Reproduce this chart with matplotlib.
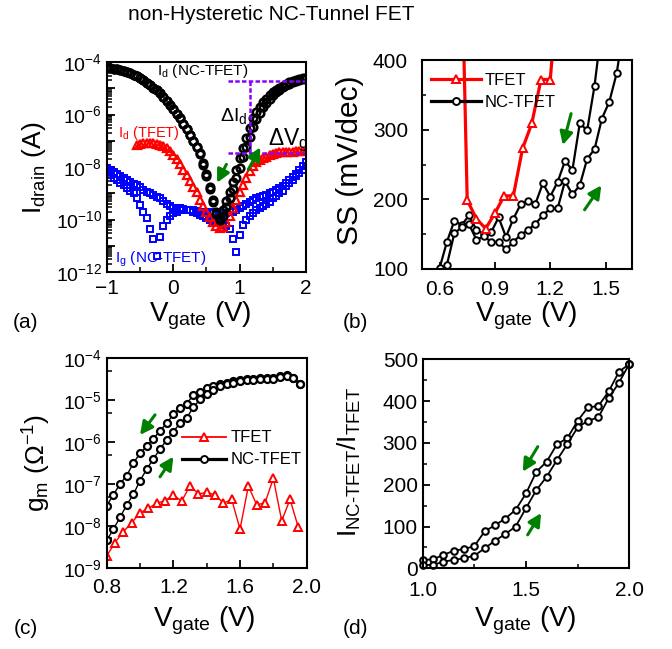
import numpy as np
import matplotlib
matplotlib.use("Agg")
import matplotlib.pyplot as plt
from matplotlib.ticker import FixedLocator, LogLocator, NullFormatter, FuncFormatter, MultipleLocator

plt.rcParams.update({
    "font.family": ["Liberation Sans", "DejaVu Sans"],
    "mathtext.fontset": "custom",
    "mathtext.rm": "Liberation Sans",
    "mathtext.it": "Liberation Sans:italic",
    "mathtext.bf": "Liberation Sans:bold",
    "mathtext.default": "rm",
    "axes.linewidth": 1.5,
    "xtick.direction": "in",
    "ytick.direction": "in",
})

# ---------------- Panel (a) data: log10 of currents ----------------
vg_a = np.linspace(-1.0, 2.0, 61)
id_nc_fwd_log = [-4.22, -4.23, -4.25, -4.27, -4.30, -4.33, -4.38, -4.43, -4.49, -4.55,
                 -4.62, -4.70, -4.79, -4.88, -4.98, -5.08, -5.19, -5.32, -5.47, -5.63,
                 -5.80, -5.97, -6.14, -6.35, -6.56, -6.78, -7.00, -7.23, -7.48, -7.85,
                 -8.25, -8.75, -9.25, -9.70, -10.00, -9.65, -9.30, -8.95, -8.56, -8.12,
                 -7.67, -7.29, -6.91, -6.52, -6.14, -5.92, -5.73, -5.54, -5.40, -5.27,
                 -5.15, -5.06, -4.98, -4.91, -4.84, -4.78, -4.73, -4.69, -4.65, -4.62, -4.60]
id_nc_rev_log = [-4.22, -4.23, -4.25, -4.27, -4.30, -4.33, -4.38, -4.43, -4.49, -4.55,
                 -4.62, -4.70, -4.79, -4.88, -4.98, -5.08, -5.19, -5.32, -5.47, -5.63,
                 -5.80, -5.97, -6.14, -6.35, -6.56, -6.78, -7.00, -7.23, -7.52, -7.92,
                 -8.35, -8.85, -9.35, -9.78, -9.95, -9.85, -9.52, -9.18, -8.82, -8.42,
                 -8.02, -7.62, -7.22, -6.85, -6.48, -6.18, -5.93, -5.72, -5.55, -5.40,
                 -5.27, -5.16, -5.06, -4.97, -4.89, -4.82, -4.76, -4.71, -4.67, -4.63, -4.60]
vg_tfet_a = np.linspace(-0.55, 2.0, 52)
id_tfet_log = [-7.15, -7.12, -7.10, -7.09, -7.09, -7.10, -7.12, -7.15, -7.21, -7.29, -7.40,
               -7.53, -7.70, -7.90, -8.10, -8.30, -8.52, -8.75, -8.97, -9.25, -9.50,
               -9.72, -9.92, -10.10, -10.25, -10.34, -10.30, -10.10, -9.85, -9.57, -9.25,
               -8.94, -8.68, -8.43, -8.17, -7.95, -7.82, -7.73, -7.66, -7.60, -7.54,
               -7.49, -7.46, -7.44, -7.43, -7.42, -7.41, -7.41, -7.40, -7.40, -7.40, -7.40]
ig_a_log = [-8.20, -8.30, -8.40, -8.50, -8.60, -8.70, -8.80, -8.90, -9.00, -9.20,
            -9.45, -9.70, -9.95, -10.35, -10.75, -11.40, -10.65, -10.25, -10.00, -9.85,
            -9.75, -9.70, -9.65, -9.65, -9.65, -9.65, -9.65, -9.68, -9.70, -9.70,
            -9.72, -9.73, -9.75, -9.75, -9.75, -9.75, -9.74, -9.72, -9.70, -9.65,
            -9.55, -9.47, -9.40, -9.33, -9.27, -9.20, -9.15, -9.10, -9.05, -9.00,
            -8.95, -8.87, -8.80, -8.72, -8.62, -8.50, -8.38, -8.25, -8.12, -7.98, -7.82]
ig_b_log = [-8.05, -8.12, -8.20, -8.27, -8.35, -8.42, -8.50, -8.57, -8.63, -8.70,
            -8.78, -8.86, -8.94, -9.00, -9.07, -9.13, -9.19, -9.28, -9.40, -9.50,
            -9.55, -9.57, -9.58, -9.60, -9.62, -9.65, -9.70, -9.75, -9.82, -9.88,
            -9.95, -10.00, -10.05, -10.10, -10.15, -10.20, -10.25, -10.35, -10.75, -11.25,
            -10.60, -10.20, -10.00, -9.85, -9.75, -9.65, -9.58, -9.50, -9.42, -9.32,
            -9.20, -9.10, -9.00, -8.90, -8.72, -8.60, -8.48, -8.35, -8.22, -8.10, -7.95]

# annotation levels in panel (a)
dI_top_log, dI_bot_log = -4.71, -7.48
dI_vline_v, dash_start_v = 1.157, 0.83

# ---------------- Panel (b) data: SS (mV/dec) ----------------
vg_ss_tfet = [0.70, 0.75, 0.80, 0.85, 0.90, 0.95, 1.00, 1.05, 1.10, 1.15, 1.20, 1.25]
ss_tfet = [780, 199, 172, 158, 180, 205, 205, 273, 309, 372, 372, 530]
vg_ss_nc_up = [0.56, 0.60, 0.64, 0.68, 0.72, 0.76, 0.80, 0.84, 0.88, 0.92, 0.96, 1.00,
               1.04, 1.08, 1.12, 1.16, 1.20, 1.24, 1.28, 1.32, 1.36, 1.40, 1.44, 1.48]
ss_nc_up = [60, 101, 139, 169, 163, 177, 156, 150, 153, 174, 146, 172,
            193, 197, 194, 223, 204, 225, 255, 242, 309, 299, 363, 450]
vg_ss_nc_dn = [0.56, 0.60, 0.64, 0.68, 0.72, 0.76, 0.80, 0.84, 0.88, 0.92, 0.96, 1.00,
               1.04, 1.08, 1.12, 1.16, 1.20, 1.24, 1.28, 1.32, 1.36, 1.40, 1.44, 1.48,
               1.52, 1.56, 1.60]
ss_nc_dn = [40, 85, 106, 151, 160, 164, 142, 147, 139, 139, 128, 139,
            149, 156, 165, 177, 187, 187, 226, 207, 220, 258, 272, 316,
            340, 381, 450]

# ---------------- Panel (c) data: log10 gm ----------------
vg_gm_tfet = np.linspace(0.80, 1.95, 24)
gm_tfet_log = [-8.72, -8.40, -8.14, -7.93, -7.69, -7.58, -7.46, -7.40, -7.26, -7.41,
               -7.04, -7.24, -7.20, -7.26, -7.46, -7.37, -8.08, -7.05, -7.50, -7.45,
               -6.87, -7.88, -7.37, -8.04]
vg_gm_nc = np.linspace(0.80, 1.96, 30)
gm_nc_up_log = [-7.52, -7.26, -7.00, -6.80, -6.50, -6.27, -6.10, -5.92, -5.73, -5.55,
                -5.34, -5.19, -5.08, -4.88, -4.80, -4.70, -4.65, -4.61, -4.58, -4.55,
                -4.52, -4.50, -4.50, -4.48, -4.48, -4.47, -4.42, -4.40, -4.46, -4.62]
gm_nc_dn_log = [-8.35, -8.08, -7.80, -7.50, -7.25, -6.92, -6.65, -6.40, -6.17, -5.95,
                -5.75, -5.55, -5.42, -5.17, -4.98, -4.85, -4.75, -4.66, -4.62, -4.58,
                -4.55, -4.52, -4.52, -4.50, -4.50, -4.49, -4.45, -4.42, -4.48, -4.62]

# ---------------- Panel (d) data: current ratio ----------------
vg_ratio = np.linspace(1.0, 2.0, 21)
ratio_up = [20, 21.5, 32, 42, 46, 53, 88.5, 103, 119, 140, 179, 231, 255, 297, 311,
            353, 385, 388, 423, 470, 489]
ratio_dn = [8, 8, 16, 20, 24, 30, 48, 66, 82, 100, 144, 187, 219, 259, 297,
            337, 353, 361, 407, 444, 489]

GREEN = "#008000"
PURPLE = "#8a00ff"
W, H = 672, 649

fig = plt.figure(figsize=(6.72, 6.49), dpi=100)


def axes_px(l, t, r, b):
    return fig.add_axes([l / W, 1 - b / H, (r - l) / W, (b - t) / H])


def ftext(x, y, s, **kw):
    fig.text(x / W, 1 - y / H, s, ha="center", va="center", **kw)


def arrow(ax, tail, head):
    ax.annotate("", xy=head, xytext=tail,
                arrowprops=dict(arrowstyle="-|>,head_length=0.55,head_width=0.28",
                                color=GREEN, lw=2.2, shrinkA=0, shrinkB=0,
                                mutation_scale=14))


def ticks(ax, major=5, minor=2.8, xpad=7, ypad=3.5):
    ax.tick_params(which="major", length=major, width=1.3, labelsize=15)
    ax.tick_params(which="minor", length=minor, width=1.1)
    ax.tick_params(axis="x", which="both", pad=xpad)
    ax.tick_params(axis="y", which="both", pad=ypad)


def logfmt(only_even):
    def f(v, p):
        k = int(round(np.log10(v)))
        if only_even and k % 2:
            return ""
        return r"$10^{%d}$" % k
    return FuncFormatter(f)


# ======== (a) ========
axa = axes_px(107, 62, 306, 272)
axa.set_yscale("log")
axa.plot(vg_a, 10.0 ** np.array(ig_a_log), ls="none", marker="s", ms=4.4, mew=1.4,
         mfc="none", mec="#0000ff")
axa.plot(vg_a, 10.0 ** np.array(ig_b_log), ls="none", marker="s", ms=4.4, mew=1.4,
         mfc="none", mec="#0000ff")
axa.plot(vg_tfet_a, 10.0 ** np.array(id_tfet_log), ls="none", marker="^", ms=6.2, mew=1.6,
         mfc="none", mec="#ff0000")
axa.plot(vg_a, 10.0 ** np.array(id_nc_fwd_log), ls="none", marker="o", ms=5.4, mew=1.9,
         mfc="none", mec="black")
axa.plot(vg_a, 10.0 ** np.array(id_nc_rev_log), ls="none", marker="o", ms=5.4, mew=1.9,
         mfc="none", mec="black")
axa.set_xlim(-1, 2)
axa.set_ylim(1e-12, 1e-4)
axa.xaxis.set_major_locator(MultipleLocator(1))
axa.xaxis.set_minor_locator(MultipleLocator(0.5))
axa.yaxis.set_major_locator(FixedLocator([10.0 ** k for k in range(-12, -3)]))
axa.yaxis.set_major_formatter(logfmt(True))
axa.yaxis.set_minor_locator(LogLocator(base=10, subs=np.arange(2, 10), numticks=100))
axa.yaxis.set_minor_formatter(NullFormatter())
ticks(axa, 6, 3.5, xpad=5)
axa.tick_params(axis="y", which="major", labelsize=14)
dash = dict(color=PURPLE, lw=1.8, dashes=(1.8, 0.9))
axa.plot([dash_start_v, 2.0], [10 ** dI_top_log] * 2, **dash)
axa.plot([dash_start_v, 2.0], [10 ** dI_bot_log] * 2, **dash)
axa.plot([dI_vline_v] * 2, [10 ** dI_top_log, 10 ** dI_bot_log], **dash)
axa.text(-0.25, 10 ** -4.36, r"I$_d$ (NC-TFET)", fontsize=11, ha="left", va="center")
axa.text(-0.84, 10 ** -6.72, r"I$_d$ (TFET)", fontsize=10.5, ha="left", va="center", color="red")
axa.text(-0.88, 10 ** -11.5, r"I$_g$ (NC-TFET)", fontsize=11, ha="left", va="center", color="#0000ff")
axa.text(1.11, 10 ** -6.06, r"$\Delta$I$_d$", fontsize=14, ha="right", va="center")
axa.text(1.43, 10 ** -6.97, r"$\Delta$V$_g$", fontsize=16.5, ha="left", va="center")
arrow(axa, (0.80, 10 ** -7.9), (0.66, 10 ** -8.6))
arrow(axa, (1.13, 10 ** -8.1), (1.31, 10 ** -7.25))

# ======== (b) ========
axb = axes_px(422, 60, 632, 269)
axb.plot(vg_ss_nc_up, ss_nc_up, "-o", color="black", lw=1.6, ms=4.7, mew=1.4, mfc="white")
axb.plot(vg_ss_nc_dn, ss_nc_dn, "-o", color="black", lw=1.6, ms=4.7, mew=1.4, mfc="white")
axb.plot(vg_ss_tfet, ss_tfet, "-^", color="#ff0000", lw=2.3, ms=6.0, mew=1.4, mfc="white")
axb.set_xlim(0.505, 1.643)
axb.set_ylim(100, 400)
axb.xaxis.set_major_locator(FixedLocator([0.6, 0.9, 1.2, 1.5]))
axb.yaxis.set_major_locator(MultipleLocator(100))
axb.yaxis.set_minor_locator(MultipleLocator(50))
ticks(axb, xpad=8, ypad=10)
hb1, = axb.plot([], [], "-^", color="#ff0000", lw=2.3, ms=6.0, mew=1.4, mfc="white")
hb2, = axb.plot([], [], "-o", color="black", lw=2.3, ms=5.0, mew=1.4, mfc="white")
axb.legend([hb1, hb2], ["TFET", "NC-TFET"], loc="upper left", bbox_to_anchor=(0.045, 0.94),
           frameon=False, fontsize=12, handlelength=2.95, handletextpad=0.25,
           labelspacing=0.42, borderpad=0, borderaxespad=0, numpoints=1)
arrow(axb, (1.313, 323), (1.268, 278))
arrow(axb, (1.386, 185), (1.477, 220))

# ======== (c) ========
axc = axes_px(106.7, 358.3, 306.7, 567.7)
axc.set_yscale("log")
axc.plot(vg_gm_tfet, 10.0 ** np.array(gm_tfet_log), "-^", color="#ff0000", lw=1.0, ms=5.8,
         mew=1.4, mfc="white")
axc.plot(vg_gm_nc, 10.0 ** np.array(gm_nc_up_log), "-o", color="black", lw=1.0, ms=5.0,
         mew=1.6, mfc="white")
axc.plot(vg_gm_nc, 10.0 ** np.array(gm_nc_dn_log), "-o", color="black", lw=1.0, ms=5.0,
         mew=1.6, mfc="white")
axc.set_xlim(0.8, 2.0)
axc.set_ylim(1e-9, 1e-4)
axc.xaxis.set_major_locator(FixedLocator([0.8, 1.2, 1.6, 2.0]))
axc.xaxis.set_major_formatter(FuncFormatter(lambda v, p: "%.1f" % v))
axc.xaxis.set_minor_locator(FixedLocator([1.0, 1.4, 1.8]))
axc.yaxis.set_major_locator(FixedLocator([10.0 ** k for k in range(-9, -3)]))
axc.yaxis.set_major_formatter(logfmt(False))
axc.yaxis.set_minor_locator(LogLocator(base=10, subs=(5,), numticks=100))
axc.yaxis.set_minor_formatter(NullFormatter())
ticks(axc, 6, 3.5, xpad=7.5)
axc.tick_params(axis="y", which="major", labelsize=14)
hc1, = axc.plot([], [], "-^", color="#ff0000", lw=1.3, ms=6.0, mew=1.4, mfc="white")
hc2, = axc.plot([], [], "-o", color="black", lw=2.3, ms=5.0, mew=1.4, mfc="white")
axc.legend([hc1, hc2], ["TFET", "NC-TFET"], loc="upper left", bbox_to_anchor=(0.375, 0.656),
           frameon=False, fontsize=12, handlelength=2.65, handletextpad=0.3,
           labelspacing=0.42, borderpad=0, borderaxespad=0, numpoints=1)
arrow(axc, (1.09, 10 ** -5.35), (1.00, 10 ** -5.83))
arrow(axc, (1.12, 10 ** -6.83), (1.20, 10 ** -6.35))

# ======== (d) ========
axd = axes_px(422.7, 359.3, 629.3, 568.3)
axd.plot(vg_ratio, ratio_up, "-o", color="black", lw=1.3, ms=4.7, mew=1.5, mfc="white",
         clip_on=False)
axd.plot(vg_ratio, ratio_dn, "-o", color="black", lw=1.3, ms=4.7, mew=1.5, mfc="white",
         clip_on=False)
axd.set_xlim(1.0, 2.0)
axd.set_ylim(0, 500)
axd.xaxis.set_major_locator(MultipleLocator(0.5))
axd.xaxis.set_major_formatter(FuncFormatter(lambda v, p: "%.1f" % v))
axd.xaxis.set_minor_locator(MultipleLocator(0.25))
axd.yaxis.set_major_locator(MultipleLocator(100))
axd.yaxis.set_minor_locator(MultipleLocator(50))
ticks(axd, xpad=9)
arrow(axd, (1.557, 291), (1.484, 231))
arrow(axd, (1.508, 80), (1.573, 132))

# ======== labels ========
ftext(200, 316, r"V$_{gate}$ (V)", fontsize=20)
ftext(526, 316, r"V$_{gate}$ (V)", fontsize=20)
ftext(204, 621, r"V$_{gate}$ (V)", fontsize=20)
ftext(525, 621, r"V$_{gate}$ (V)", fontsize=20)
ftext(34, 168, r"I$_{drain}$ (A)", fontsize=19, rotation=90)
ftext(350, 160, "SS (mV/dec)", fontsize=21.5, rotation=90)
ftext(37, 463, r"g$_m$ ($\Omega^{-1}$)", fontsize=19, rotation=90)
ftext(349, 462, "I$_{NC\u2010TFET}$/I$_{TFET}$", fontsize=19, rotation=90)

ftext(25, 322, "(a)", fontsize=15)
ftext(355, 322, "(b)", fontsize=15)
ftext(26, 628, "(c)", fontsize=15)
ftext(355, 629, "(d)", fontsize=15)
ftext(271.5, 14, "non-Hysteretic NC-Tunnel FET", fontsize=15)

fig.savefig("out.png", dpi=100)
